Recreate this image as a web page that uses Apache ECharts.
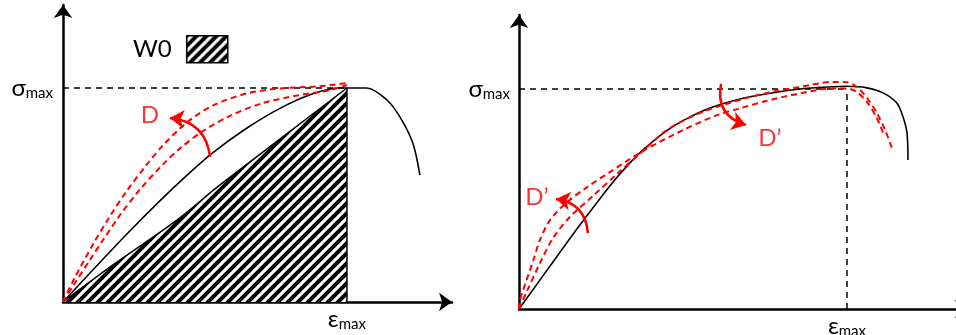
<!DOCTYPE html>
<html>
<head>
<meta charset="utf-8">
<script src="https://cdn.jsdelivr.net/npm/echarts@6/dist/echarts.min.js"></script>
<style>
  html, body { margin: 0; padding: 0; background: #fff; }
  #chart { width: 956px; height: 335px; }
</style>
</head>
<body>
<div id="chart"></div>
<script>
// strain is normalised by eps_max, stress by sigma_max (both = 1 at the peak)

// left panel
const leftBase = [[0, 0], [0.113, 0.161], [0.225, 0.318], [0.342, 0.474], [0.437, 0.593], [0.528, 0.698],
  [0.648, 0.813], [0.764, 0.905], [0.88, 0.973], [0.975, 1.0], [1.0, 1.0], [1.07, 1.0], [1.141, 0.944],
  [1.187, 0.864], [1.232, 0.743], [1.257, 0.593]];
const leftDamaged1 = [[0, 0], [0.04, 0.11], [0.106, 0.27], [0.165, 0.4], [0.225, 0.52], [0.289, 0.632],
  [0.352, 0.732], [0.437, 0.84], [0.528, 0.918], [0.648, 0.975], [0.764, 0.998], [0.905, 1.008], [1.0, 1.023]];
const leftDamaged2 = [[0, 0], [0.04, 0.084], [0.095, 0.197], [0.141, 0.29], [0.201, 0.407], [0.271, 0.526],
  [0.352, 0.643], [0.412, 0.718], [0.493, 0.799], [0.588, 0.87], [0.704, 0.93], [0.824, 0.965],
  [0.94, 0.99], [1.0, 1.014]];
const leftSecant = [[0, 0], [0.176, 0.173], [0.401, 0.383], [0.553, 0.547], [1.0, 1.0]];

// right panel
const rightBase = [[0, 0], [0.079, 0.163], [0.18, 0.37], [0.28, 0.565], [0.332, 0.654], [0.384, 0.731],
  [0.451, 0.811], [0.512, 0.865], [0.582, 0.913], [0.674, 0.954], [0.756, 0.978], [0.857, 1.0],
  [0.957, 1.01], [1.0, 1.012], [1.061, 1.005], [1.11, 0.982], [1.152, 0.936], [1.171, 0.873],
  [1.183, 0.8], [1.186, 0.677]];
const rightDamagedA = [[0, 0], [0.003, 0.041], [0.043, 0.218], [0.064, 0.314], [0.095, 0.405], [0.146, 0.485],
  [0.207, 0.553], [0.277, 0.622], [0.378, 0.718], [0.5, 0.813], [0.604, 0.881], [0.674, 0.912],
  [0.756, 0.946], [0.857, 0.98], [0.957, 1.002], [1.0, 1.002], [1.03, 0.986], [1.061, 0.941],
  [1.091, 0.868], [1.11, 0.8]];
const rightDamagedB = [[0, 0], [0.024, 0.08], [0.064, 0.209], [0.104, 0.323], [0.155, 0.418], [0.226, 0.514],
  [0.299, 0.614], [0.378, 0.718], [0.451, 0.814], [0.552, 0.891], [0.652, 0.941], [0.756, 0.982],
  [0.857, 1.009], [0.957, 1.032], [1.0, 1.03], [1.03, 1.009], [1.061, 0.959], [1.091, 0.891],
  [1.116, 0.814], [1.137, 0.732]];

// guide lines, arrows and their labels
const peakLevel = [[0, 1], [1, 1]];
const peakStrain = [[1, 0], [1, 1]];
const arrowD = [[0.518, 0.678], [0.377, 0.86]];
const arrowDpLow = [[0.21, 0.345], [0.113, 0.5]];
const arrowDpHigh = [[0.616, 1.023], [0.692, 0.836]];
const labelD = [[0.306, 0.874]];
const labelDpLow = [[0.055, 0.509]];
const labelDpHigh = [[0.765, 0.777]];

const FONT = 'Lato, "Open Sans", sans-serif';
const RED = '#ff0000';

function hatchPattern() {
  const p = 10, s = 20;
  const c = document.createElement('canvas');
  c.width = s; c.height = s;
  const ctx = c.getContext('2d');
  ctx.fillStyle = '#fff';
  ctx.fillRect(0, 0, s, s);
  ctx.strokeStyle = '#000';
  ctx.lineWidth = 4;
  ctx.beginPath();
  for (let k = -3; k <= 3; k++) {
    ctx.moveTo(k * p - 2, s + 2);
    ctx.lineTo(k * p + s + 2, -2);
  }
  ctx.stroke();
  return { image: c, repeat: 'repeat' };
}
const hatch = hatchPattern();

const rich = {
  a: { fontSize: 24, lineHeight: 26, color: '#000', fontFamily: FONT },
  b: { fontSize: 15, lineHeight: 15, color: '#000', fontFamily: FONT, verticalAlign: 'bottom' }
};

function makeAxis(gridIndex, max, sym, margin) {
  return {
    type: 'value', gridIndex: gridIndex, min: 0, max: max, interval: 1,
    axisLine: { show: true, symbol: ['none', 'arrow'], symbolSize: [14, 13], lineStyle: { color: '#000', width: 2.5 } },
    axisTick: { show: false },
    splitLine: { show: false },
    axisLabel: {
      margin: margin, rich: rich, showMaxLabel: false,
      formatter: v => v === 1 ? '{a|' + sym + '}{b|max}' : ''
    }
  };
}

function curve(data, idx, color, dashed, width) {
  return {
    type: 'line', xAxisIndex: idx, yAxisIndex: idx, data: data, symbol: 'none',
    smooth: 0.3, silent: true, z: 3,
    lineStyle: { color: color, width: width, type: dashed ? [6, 4] : 'solid' }
  };
}

function guide(data, idx, dashed) {
  return {
    type: 'line', xAxisIndex: idx, yAxisIndex: idx, data: data, symbol: 'none', silent: true, z: 2,
    lineStyle: { color: '#000', width: 1.5, type: dashed ? [6, 5] : 'solid' }
  };
}

function arrow(coords, idx, curveness) {
  return {
    type: 'lines', coordinateSystem: 'cartesian2d', xAxisIndex: idx, yAxisIndex: idx, silent: true, z: 4,
    symbol: ['none', 'arrow'], symbolSize: 14,
    lineStyle: { color: RED, width: 2.5, curveness: curveness, opacity: 1 },
    data: [{ coords: coords }]
  };
}

function tag(data, idx, text) {
  return {
    type: 'scatter', xAxisIndex: idx, yAxisIndex: idx, data: data, symbolSize: 0, silent: true, z: 5,
    label: { show: true, position: 'inside', formatter: text, color: RED, fontSize: 24, fontFamily: FONT }
  };
}

const chart = echarts.init(document.getElementById('chart'), null, { renderer: 'canvas' });

chart.setOption({
  animation: false,
  backgroundColor: '#fff',
  grid: [
    { left: 63, top: 5, width: 389, height: 297, outerBoundsMode: 'none' },
    { left: 519, top: 15, width: 449, height: 294, outerBoundsMode: 'none' }
  ],
  xAxis: [makeAxis(0, 1.37, 'ε', 4), makeAxis(1, 1.369, 'ε', 4)],
  yAxis: [makeAxis(0, 1.388, 'σ', 10), makeAxis(1, 1.336, 'σ', 9)],
  legend: {
    left: 128, top: 30, itemWidth: 41, itemHeight: 27, align: 'right', selectedMode: false,
    textStyle: { fontSize: 24, color: '#000', fontFamily: FONT, padding: [0, 10, 0, 0] },
    data: [{ name: 'W0', icon: 'rect', itemStyle: { color: hatch, borderColor: '#000', borderWidth: 1.5 } }]
  },
  series: [
    {
      name: 'W0', type: 'line', xAxisIndex: 0, yAxisIndex: 0, data: leftSecant, symbol: 'none',
      smooth: 0.3, silent: true, z: 1,
      lineStyle: { color: '#000', width: 1.5 },
      itemStyle: { color: '#000' },
      areaStyle: { color: hatch, opacity: 1 }
    },
    guide(peakStrain, 0, false),
    guide(peakLevel, 0, true),
    curve(leftBase, 0, '#000', false, 1.6),
    curve(leftDamaged1, 0, RED, true, 2),
    curve(leftDamaged2, 0, RED, true, 2),
    arrow(arrowD, 0, -0.4),
    tag(labelD, 0, 'D'),

    guide(peakLevel, 1, true),
    guide(peakStrain, 1, true),
    curve(rightBase, 1, '#000', false, 1.6),
    curve(rightDamagedA, 1, RED, true, 2),
    curve(rightDamagedB, 1, RED, true, 2),
    arrow(arrowDpLow, 1, -0.4),
    arrow(arrowDpHigh, 1, -0.45),
    tag(labelDpLow, 1, 'D’'),
    tag(labelDpHigh, 1, 'D’')
  ]
});
</script>
</body>
</html>
